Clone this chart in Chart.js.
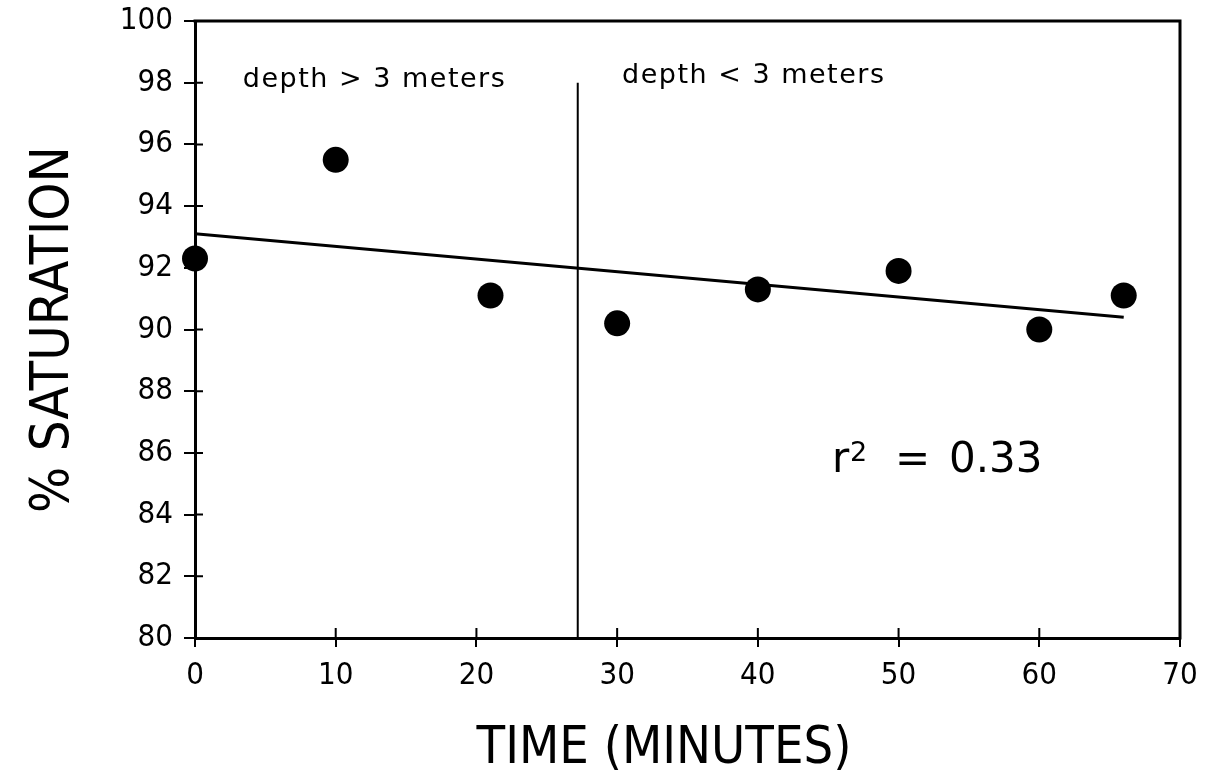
<!DOCTYPE html>
<html>
<head>
<meta charset="utf-8">
<script src="https://cdn.jsdelivr.net/npm/chart.js@4.4.1/dist/chart.umd.min.js"></script>
<style>
html,body{margin:0;padding:0;background:#fff;}
#wrap{width:1230px;height:771px;position:relative;}
canvas{display:block;}
</style>
</head>
<body>
<div id="wrap"><canvas id="c" width="1230" height="771"></canvas></div>
<script>
// ---- data ----
const timeMinutes    = [0, 10, 21, 30, 40, 50, 60, 66];
const saturationPct  = [92.3, 95.5, 91.1, 90.2, 91.3, 91.9, 90.0, 91.1];
const fitTime        = [0, 66];
const fitSaturation  = [93.1, 90.4];
const dividerTime    = [27.2, 27.2];
const dividerSat     = [98.0, 80];
const xTickValues    = [0, 10, 20, 30, 40, 50, 60, 70];
const yTickValues    = [80, 82, 84, 86, 88, 90, 92, 94, 96, 98, 100];
const leftRegionLabel  = 'depth > 3 meters';
const rightRegionLabel = 'depth < 3 meters';
const rSquaredValue    = '0.33';
const xAxisTitle = 'TIME (MINUTES)';
const yAxisTitle = '% SATURATION';

const FONT = "'DejaVu Sans Condensed', 'DejaVu Sans', sans-serif";
const FONT_REG = "'DejaVu Sans', sans-serif";

const toXY = (xs, ys) => xs.map((x, i) => ({x: x, y: ys[i]}));

const decorPlugin = {
  id: 'decor',
  afterDraw(chart) {
    const ctx = chart.ctx;
    const a = chart.chartArea;
    const xs = chart.scales.x, ys = chart.scales.y;
    ctx.save();
    ctx.strokeStyle = '#000';
    ctx.fillStyle = '#000';
    // top and right frame
    ctx.lineWidth = 3;
    ctx.beginPath();
    ctx.moveTo(a.left - 1.5, a.top);
    ctx.lineTo(a.right, a.top);
    ctx.lineTo(a.right, a.bottom + 1.5);
    ctx.stroke();
    // inward halves of the crossing tick marks
    ctx.lineWidth = 2;
    ctx.beginPath();
    xTickValues.slice(1, -1).forEach(v => {
      const px = xs.getPixelForValue(v);
      ctx.moveTo(px, a.bottom);
      ctx.lineTo(px, a.bottom - 10);
    });
    yTickValues.slice(1, -1).forEach(v => {
      const py = ys.getPixelForValue(v);
      ctx.moveTo(a.left, py);
      ctx.lineTo(a.left + 8, py);
    });
    ctx.stroke();

    // region labels
    ctx.textBaseline = 'alphabetic';
    ctx.textAlign = 'left';
    ctx.font = '27px ' + FONT_REG;
    if ('letterSpacing' in ctx) ctx.letterSpacing = '1.5px';
    ctx.fillText(leftRegionLabel, xs.getPixelForValue(3.4), ys.getPixelForValue(97.86));
    ctx.fillText(rightRegionLabel, xs.getPixelForValue(30.35), ys.getPixelForValue(98.0));
    if ('letterSpacing' in ctx) ctx.letterSpacing = '0px';

    // r^2 = 0.33
    const rx = xs.getPixelForValue(45.27);
    const ry = ys.getPixelForValue(85.38);
    ctx.font = '42px ' + FONT_REG;
    ctx.fillText('r', rx, ry);
    ctx.font = '27px ' + FONT_REG;
    ctx.fillText('2', rx + 18, ry - 11);
    ctx.font = '42px ' + FONT_REG;
    ctx.fillText('=', rx + 63, ry);
    ctx.fillText(rSquaredValue, rx + 117, ry);

    // x axis title
    ctx.textAlign = 'center';
    ctx.font = '52px ' + FONT;
    ctx.fillText(xAxisTitle, xs.getPixelForValue(33.33), a.bottom + 125);
    ctx.restore();
  }
};

new Chart(document.getElementById('c'), {
  type: 'scatter',
  data: {
    datasets: [
      {
        label: 'saturation',
        data: toXY(timeMinutes, saturationPct),
        showLine: false,
        pointRadius: 13,
        pointHoverRadius: 13,
        pointBackgroundColor: '#000',
        pointBorderColor: '#000',
        pointBorderWidth: 0,
        clip: false
      },
      {
        label: 'fit',
        data: toXY(fitTime, fitSaturation),
        showLine: true,
        pointRadius: 0,
        borderColor: '#000',
        borderWidth: 3,
        fill: false
      },
      {
        label: 'divider',
        data: toXY(dividerTime, dividerSat),
        showLine: true,
        pointRadius: 0,
        borderColor: '#000',
        borderWidth: 2,
        fill: false
      }
    ]
  },
  options: {
    responsive: false,
    animation: false,
    devicePixelRatio: 1,
    layout: { padding: { left: 0, right: 50, top: 21, bottom: 0 } },
    plugins: { legend: { display: false }, tooltip: { enabled: false } },
    scales: {
      x: {
        type: 'linear',
        min: 0, max: 70,
        afterBuildTicks: s => { s.ticks = xTickValues.map(v => ({ value: v })); },
        afterFit: s => { s.height = 133; s.paddingLeft = 0; s.paddingRight = 0; },
        grid: { display: true, drawOnChartArea: false, drawTicks: true, tickLength: 9, color: '#000', lineWidth: 2 },
        border: { display: true, color: '#000', width: 3 },
        ticks: { color: '#000', font: { family: FONT, size: 31 }, padding: 10, maxRotation: 0, autoSkip: false },
        title: { display: false }
      },
      y: {
        type: 'linear',
        min: 80, max: 100,
        afterBuildTicks: s => { s.ticks = yTickValues.map(v => ({ value: v })); },
        afterFit: s => { s.width = 195; s.paddingTop = 0; s.paddingBottom = 0; },
        grid: { display: true, drawOnChartArea: false, drawTicks: true, tickLength: 11, color: '#000', lineWidth: 2 },
        border: { display: true, color: '#000', width: 3 },
        ticks: { color: '#000', font: { family: FONT, size: 31 }, padding: 11, autoSkip: false },
        title: { display: true, text: yAxisTitle, color: '#000', font: { family: FONT, size: 54 }, padding: { top: 22, bottom: 0 } }
      }
    }
  },
  plugins: [decorPlugin]
});
</script>
</body>
</html>
